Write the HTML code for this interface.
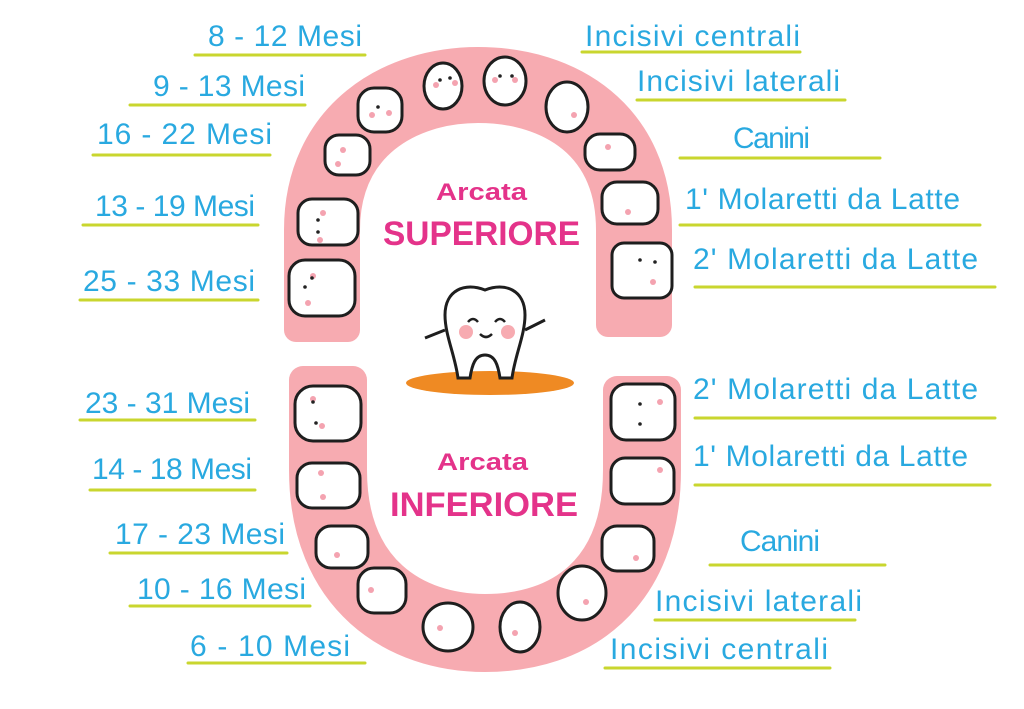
<!DOCTYPE html>
<html><head><meta charset="utf-8"><style>
html,body{margin:0;padding:0;background:#fff;}
svg{display:block}
.l{font-family:"Liberation Sans",sans-serif;font-size:30px;fill:#29a9e0;}
.p{font-family:"Liberation Sans",sans-serif;font-weight:bold;fill:#e4338a;}
.u{stroke:#c9d62e;stroke-width:3;stroke-linecap:round;fill:none}
.t{fill:#fff;stroke:#1e1e1e;stroke-width:3}
</style></head><body>
<svg width="1024" height="709" viewBox="0 0 1024 709" xmlns="http://www.w3.org/2000/svg">
<path d="M322,325 L322,230 C322,130 400,85 478,85 C560,85 634,130 634,230 L634,320" fill="none" stroke="#f7abb1" stroke-width="76"/>
<rect x="284" y="300" width="76" height="42" rx="12" fill="#f7abb1"/>
<rect x="596" y="295" width="76" height="42" rx="12" fill="#f7abb1"/>
<path d="M328,385 L328,470 C328,585 405,633 485,633 C570,633 642,585 642,470 L642,395" fill="none" stroke="#f7abb1" stroke-width="78"/>
<rect x="289" y="366" width="78" height="40" rx="14" fill="#f7abb1"/>
<rect x="603" y="376" width="78" height="40" rx="14" fill="#f7abb1"/>
<g>
<rect class="t" x="289" y="260" width="66" height="56" rx="16"/>
<rect class="t" x="298" y="199" width="60" height="46" rx="14"/>
<rect class="t" x="325" y="135" width="45" height="40" rx="14"/>
<rect class="t" x="358" y="88" width="44" height="44" rx="16"/>
<ellipse class="t" cx="443" cy="86" rx="19" ry="23"/>
<ellipse class="t" cx="505" cy="81" rx="21" ry="24"/>
<ellipse class="t" cx="567" cy="107" rx="21" ry="25"/>
<rect class="t" x="585" y="134" width="50" height="36" rx="15"/>
<rect class="t" x="602" y="182" width="56" height="42" rx="15"/>
<rect class="t" x="612" y="243" width="60" height="55" rx="12"/>
<rect class="t" x="295" y="386" width="66" height="55" rx="18"/>
<rect class="t" x="297" y="463" width="63" height="45" rx="15"/>
<rect class="t" x="316" y="526" width="52" height="42" rx="15"/>
<rect class="t" x="358" y="568" width="48" height="45" rx="16"/>
<ellipse class="t" cx="448" cy="627" rx="25" ry="24"/>
<ellipse class="t" cx="520" cy="627" rx="20" ry="25"/>
<ellipse class="t" cx="582" cy="593" rx="24" ry="27"/>
<rect class="t" x="602" y="526" width="52" height="45" rx="15"/>
<rect class="t" x="611" y="458" width="63" height="46" rx="14"/>
<rect class="t" x="611" y="384" width="64" height="56" rx="15"/>
</g>
<g fill="#f4a3b0">
<circle cx="436" cy="85" r="3"/><circle cx="455" cy="83" r="3"/><circle cx="495" cy="80" r="3"/><circle cx="515" cy="80" r="3"/>
<circle cx="372" cy="115" r="3"/><circle cx="389" cy="113" r="3"/><circle cx="338" cy="164" r="3"/><circle cx="343" cy="150" r="3"/>
<circle cx="320" cy="240" r="3"/><circle cx="323" cy="213" r="3"/><circle cx="308" cy="303" r="3"/><circle cx="313" cy="276" r="3"/>
<circle cx="574" cy="115" r="3"/><circle cx="608" cy="147" r="3"/><circle cx="628" cy="212" r="3"/><circle cx="653" cy="282" r="3"/>
<circle cx="313" cy="399" r="3"/><circle cx="322" cy="426" r="3"/><circle cx="321" cy="473" r="3"/><circle cx="323" cy="497" r="3"/>
<circle cx="337" cy="555" r="3"/><circle cx="371" cy="590" r="3"/><circle cx="440" cy="628" r="3"/><circle cx="515" cy="633" r="3"/>
<circle cx="586" cy="602" r="3"/><circle cx="636" cy="558" r="3"/><circle cx="660" cy="470" r="3"/><circle cx="660" cy="402" r="3"/>
</g>
<g fill="#222">
<circle cx="440" cy="80" r="1.8"/><circle cx="450" cy="78" r="1.8"/>
<circle cx="500" cy="76" r="1.8"/><circle cx="512" cy="76" r="1.8"/>
<circle cx="378" cy="107" r="1.8"/><circle cx="318" cy="220" r="1.8"/><circle cx="318" cy="232" r="1.8"/>
<circle cx="305" cy="287" r="1.8"/><circle cx="312" cy="278" r="1.8"/>
<circle cx="640" cy="260" r="1.8"/><circle cx="655" cy="262" r="1.8"/>
<circle cx="313" cy="402" r="1.8"/><circle cx="316" cy="423" r="1.8"/>
<circle cx="640" cy="404" r="1.8"/><circle cx="640" cy="424" r="1.8"/>
</g>
<ellipse cx="490" cy="383" rx="84" ry="12" fill="#ef8a23"/>
<path d="M458,378 C455,355 445,335 445,315 C445,290 465,282 485,290 C505,282 525,290 525,315 C525,335 515,355 512,378 L500,378 C498,365 495,355 485,355 C475,355 472,365 470,378 Z" fill="#fff" stroke="#1e1e1e" stroke-width="3"/>
<path d="M445,330 L425,338 M525,330 L545,320" stroke="#1e1e1e" stroke-width="3" fill="none"/>
<circle cx="466" cy="332" r="7" fill="#f7abb1"/><circle cx="508" cy="332" r="7" fill="#f7abb1"/>
<path d="M468,322 q5,-6 10,0 M495,322 q5,-6 10,0 M480,334 q6,6 12,0" stroke="#1e1e1e" stroke-width="2.5" fill="none"/>
<text class="p" x="436" y="200" font-size="24" textLength="91" lengthAdjust="spacingAndGlyphs">Arcata</text>
<text class="p" x="383" y="245" font-size="34" textLength="197" lengthAdjust="spacingAndGlyphs">SUPERIORE</text>
<text class="p" x="437" y="470" font-size="24" textLength="91" lengthAdjust="spacingAndGlyphs">Arcata</text>
<text class="p" x="390" y="516" font-size="34" textLength="188" lengthAdjust="spacingAndGlyphs">INFERIORE</text>
<g class="l">
<text x="208" y="46" textLength="154">8 - 12 Mesi</text>
<text x="153" y="96" textLength="152">9 - 13 Mesi</text>
<text x="97" y="144" textLength="175">16 - 22 Mesi</text>
<text x="95" y="216" textLength="160">13 - 19 Mesi</text>
<text x="83" y="291" textLength="172">25 - 33 Mesi</text>
<text x="85" y="413" textLength="165">23 - 31 Mesi</text>
<text x="92" y="479" textLength="160">14 - 18 Mesi</text>
<text x="115" y="544" textLength="170">17 - 23 Mesi</text>
<text x="137" y="599" textLength="169">10 - 16 Mesi</text>
<text x="190" y="656" textLength="160">6 - 10 Mesi</text>
<text x="585" y="46" textLength="215">Incisivi centrali</text>
<text x="637" y="91" textLength="203">Incisivi laterali</text>
<text x="733" y="148" textLength="77">Canini</text>
<text x="685" y="209" textLength="275">1' Molaretti da Latte</text>
<text x="693" y="269" textLength="285">2' Molaretti da Latte</text>
<text x="693" y="399" textLength="285">2' Molaretti da Latte</text>
<text x="693" y="466" textLength="275">1' Molaretti da Latte</text>
<text x="740" y="551" textLength="80">Canini</text>
<text x="655" y="611" textLength="207">Incisivi laterali</text>
<text x="610" y="659" textLength="218">Incisivi centrali</text>
</g>
<g class="u">
<path d="M195,55 H365"/><path d="M130,105 H305"/><path d="M93,155 H270"/><path d="M83,225 H258"/><path d="M80,300 H258"/>
<path d="M80,420 H255"/><path d="M90,490 H255"/><path d="M110,553 H287"/><path d="M130,606 H310"/><path d="M188,663 H365"/>
<path d="M582,52 H800"/><path d="M637,100 H845"/><path d="M680,158 H880"/><path d="M680,225 H980"/><path d="M695,287 H995"/>
<path d="M695,418 H995"/><path d="M695,485 H990"/><path d="M710,565 H885"/><path d="M655,620 H855"/><path d="M605,668 H830"/>
</g>
</svg>
</body></html>
